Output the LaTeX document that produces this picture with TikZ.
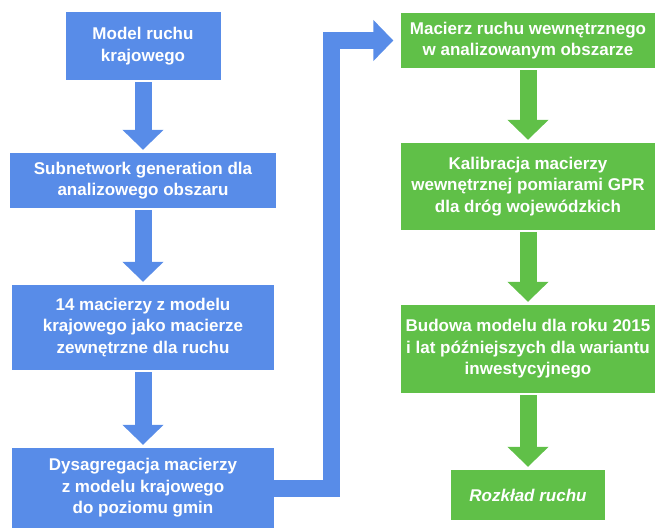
\documentclass[tikz,border=0pt]{standalone}
\usepackage{fontspec}
\setmainfont{Liberation Sans}
\usepackage{xcolor}
\usepackage{tikz}
\usetikzlibrary{positioning,arrows.meta}

\definecolor{boxblue}{RGB}{88,140,232}
\definecolor{boxgreen}{RGB}{96,192,72}

\begin{document}
\begin{tikzpicture}[x=1pt,y=-1pt,
    bluebox/.style={fill=boxblue, text=white, align=center, inner sep=2pt,
        font=\fontsize{17}{21.5}\selectfont\bfseries},
    greenbox/.style={bluebox, fill=boxgreen},
    bluearrow/.style={draw=boxblue, line width=17pt, line join=miter,
        -{Triangle[width=40pt,length=20pt]}, shorten <=2pt, shorten >=3pt},
    greenarrow/.style={bluearrow, draw=boxgreen}]
    \useasboundingbox (0,0) rectangle (655,528);

    % left column
    \node[bluebox, minimum width=155pt, minimum height=68pt] (model) at (143,46) {Model ruchu\\krajowego};
    \node[bluebox, minimum width=266pt, minimum height=55pt] (subnet) at (143,180.5) {Subnetwork generation dla\\analizowego obszaru};
    \node[bluebox, minimum width=262pt, minimum height=85pt] (zewn) at (143,327.5) {14 macierzy z modelu\\krajowego jako macierze\\zewnętrzne dla ruchu};
    \node[bluebox, minimum width=262pt, minimum height=80pt] (dysag) at (143,488) {Dysagregacja macierzy\\z modelu krajowego\\do poziomu gmin};

    % right column
    \node[greenbox, minimum width=255pt, minimum height=55pt] (wewn) at (528,40.5) {Macierz ruchu wewnętrznego\\w analizowanym obszarze};
    \node[greenbox, minimum width=255pt, minimum height=87pt] (kalib) at (528,186.5) {Kalibracja macierzy\\wewnętrznej pomiarami GPR\\dla dróg wojewódzkich};
    \node[greenbox, minimum width=255pt, minimum height=88pt] (budowa) at (528,349) {Budowa modelu dla roku 2015\\i lat późniejszych dla wariantu\\inwestycyjnego};
    \node[greenbox, minimum width=154pt, minimum height=50pt] (rozklad) at (528,495) {\itshape Rozkład ruchu};

    \draw[bluearrow] (model) -- (subnet);
    \draw[bluearrow] (subnet) -- (zewn);
    \draw[bluearrow] (zewn) -- (dysag);
    \draw[bluearrow, shorten <=0pt, shorten >=7pt] (dysag.east) -- ++(57,0) |- (wewn.west);

    \draw[greenarrow] (wewn) -- (kalib);
    \draw[greenarrow] (kalib) -- (budowa);
    \draw[greenarrow] (budowa) -- (rozklad);
\end{tikzpicture}
\end{document}
